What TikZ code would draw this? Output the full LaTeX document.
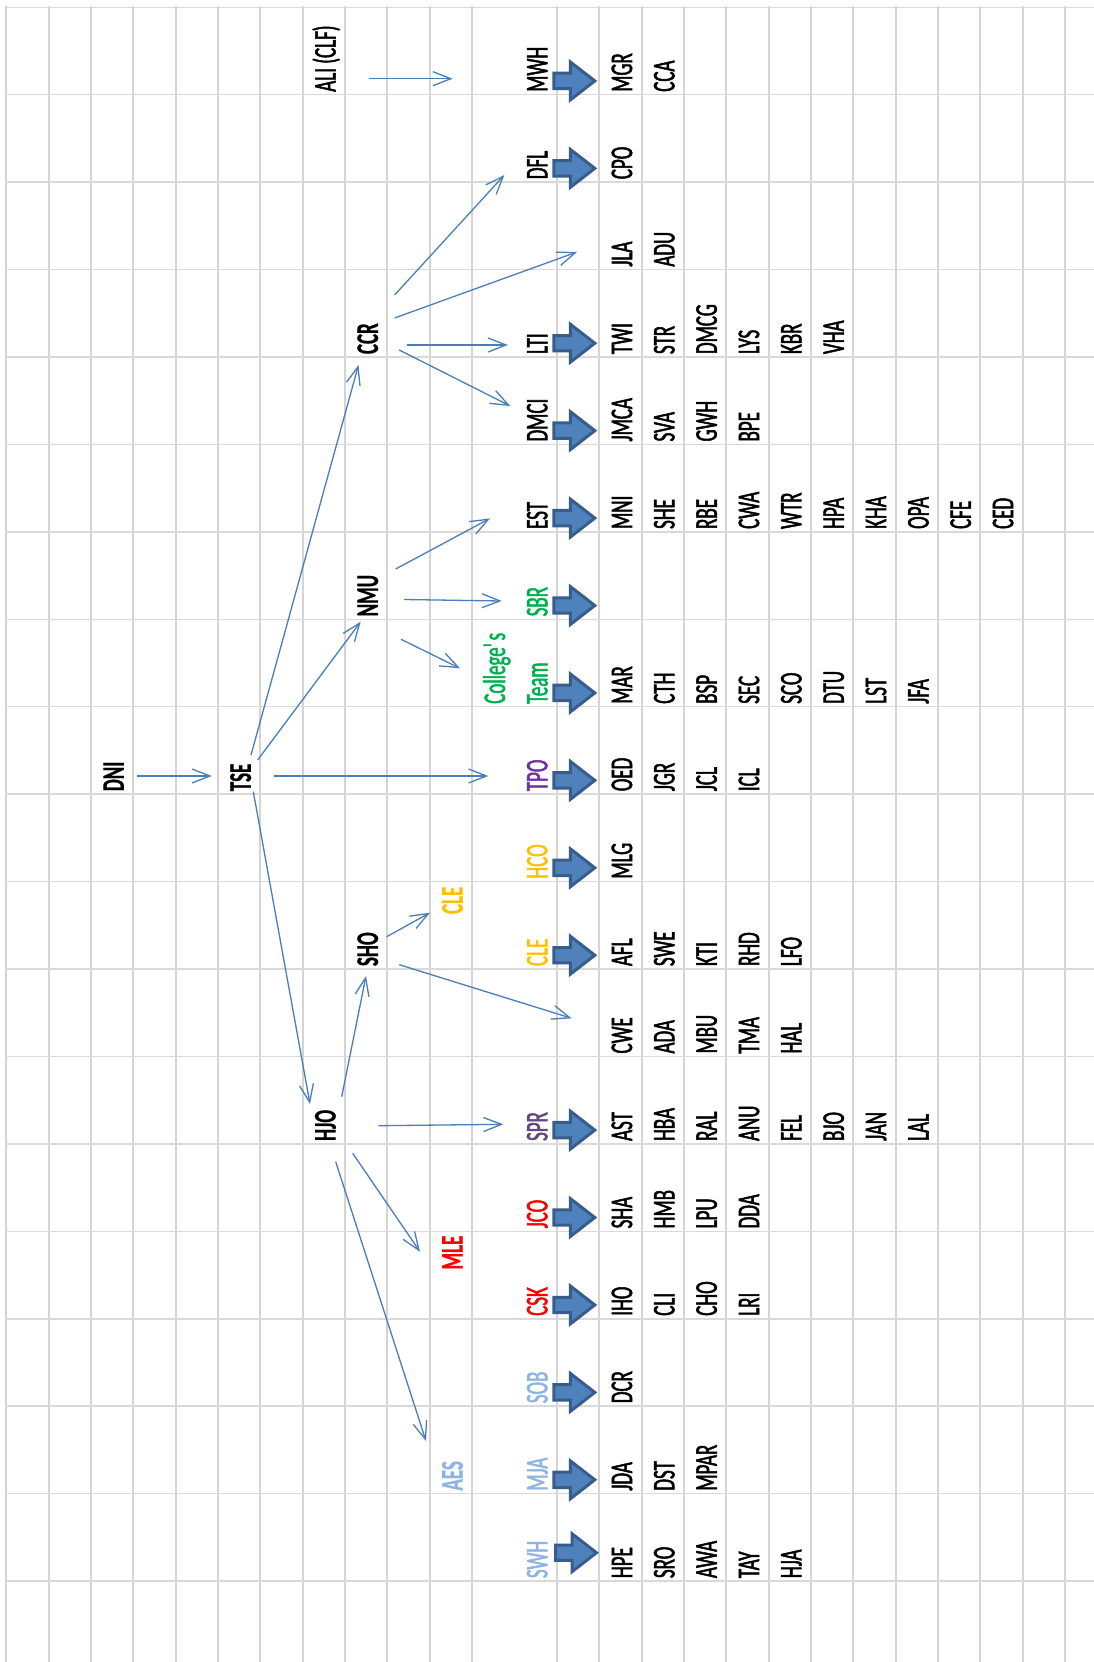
\documentclass[tikz,border=0pt]{standalone}
\usepackage{fontspec}
\setmainfont{Carlito}[FakeStretch=0.6, UprightFeatures={FakeBold=1.6}, BoldFeatures={FakeBold=0.6}]
\usetikzlibrary{arrows.meta}
\definecolor{connc}{HTML}{4A7EBB}
\definecolor{gridv}{HTML}{D4D4D4}
\definecolor{gridh}{HTML}{D9D9D9}
\definecolor{bfill}{HTML}{4F81BD}
\definecolor{bline}{HTML}{385D8A}
\definecolor{cgold}{HTML}{FFC000}
\definecolor{cred}{HTML}{FF0000}
\definecolor{cgreen}{HTML}{00B050}
\definecolor{cpurple}{HTML}{7030A0}
\definecolor{cpurpletwo}{HTML}{604A7B}
\definecolor{clblue}{HTML}{8DB4E2}
\newcommand\sq[1]{#1}
\newcommand\mylab[5]{\node[lbl,#4] (#1) at ({6.3+42.35*(#2+1)-9.5},{7.3+87.43*(#3)-3}) {\sq{#5}};}
\tikzset{
  lbl/.style={rotate=90, anchor=base west, inner sep=0pt, outer sep=0pt, font=\fontsize{31.6}{32}\selectfont},
  bld/.style={font=\fontsize{31.6}{32}\selectfont\bfseries},
  vline/.style={draw=gridv, line width=2pt},
  hline/.style={draw=gridh, line width=1.5pt},
  conn/.style={draw=connc, line width=1.3pt, -{Straight Barb[length=18pt,width=14pt,line width=1.3pt]}},
  bastyle/.style={fill=bfill, draw=bline, line width=3pt, line join=miter},
  barrow/.pic={\path[bastyle] (0,-7.7) -- (16.5,-7.7) -- (16.5,-19) -- (41,0) -- (16.5,19) -- (16.5,7.7) -- (0,7.7) -- cycle;}
}
\begin{document}
\begin{tikzpicture}[x=1pt,y=-1pt]
\fill[white] (0,0) rectangle (1094,1662);
\useasboundingbox (0,0) rectangle (1094,1662);
% grid
\foreach \k in {0,1,2,3,4,5,6,7,8,9,10,11,13,14,15,16,17,18,19,20,21,22,23,24,25}
  \draw[vline] ({6.3+42.35*\k},6.3) -- ({6.3+42.35*\k},1662);
\foreach \j in {0,...,18}
  \draw[hline] (5.3,{7.3+87.43*\j}) -- (1094,{7.3+87.43*\j});
% block arrows
\foreach \j in {1,2,4,5,6,7,8,9,10,11,13,14,15,16,17}
  \pic at (553.8,{7.3+87.43*\j-13.8}) {barrow};
\pic at (555.5,1552.7) {barrow};
% labels
\mylab{DNI}{2}{9}{bld}{DNI}
\mylab{TSE}{5}{9}{bld}{TSE}
\mylab{ALI}{7}{1}{}{ALI (CLF)}
\mylab{HJO}{7}{13}{bld}{HJO}
\mylab{CCR}{8}{4}{bld}{CCR}
\mylab{NMU}{8}{7}{bld}{NMU}
\mylab{SHO}{8}{11}{bld}{SHO}
\node[lbl,bld,text=cgold] (CLEb) at (462.7,914) {\sq{CLE}};
\node[lbl,bld,text=cred] (MLE) at (462.7,1269.5) {\sq{MLE}};
\mylab{AES}{10}{17}{bld,text=clblue}{AES}
\mylab{Colleges}{11}{8}{text=cgreen}{College\textquotesingle s}
% main column
\mylab{MWH}{12}{1}{}{MWH}
\mylab{DFL}{12}{2}{}{DFL}
\mylab{LTI}{12}{4}{}{LTI}
\mylab{DMCI}{12}{5}{}{DMCI}
\mylab{EST}{12}{6}{}{EST}
\mylab{SBR}{12}{7}{text=cgreen}{SBR}
\mylab{Team}{12}{8}{text=cgreen}{Team}
\mylab{TPO}{12}{9}{text=cpurple}{TPO}
\mylab{HCO}{12}{10}{text=cgold}{HCO}
\mylab{CLEa}{12}{11}{text=cgold}{CLE}
\mylab{SPR}{12}{13}{text=cpurpletwo}{SPR}
\mylab{JCO}{12}{14}{text=cred}{JCO}
\mylab{CSK}{12}{15}{text=cred}{CSK}
\mylab{SOB}{12}{16}{text=clblue}{SOB}
\mylab{MJA}{12}{17}{text=clblue}{MJA}
\mylab{SWH}{12}{18}{text=clblue}{SWH}
% column 14
\mylab{MGR}{14}{1}{}{MGR}
\mylab{CPO}{14}{2}{}{CPO}
\mylab{JLA}{14}{3}{}{JLA}
\mylab{TWI}{14}{4}{}{TWI}
\mylab{JMCA}{14}{5}{}{JMCA}
\mylab{MNI}{14}{6}{}{MNI}
\mylab{MAR}{14}{8}{}{MAR}
\mylab{OED}{14}{9}{}{OED}
\mylab{MLG}{14}{10}{}{MLG}
\mylab{AFL}{14}{11}{}{AFL}
\mylab{CWE}{14}{12}{}{CWE}
\mylab{AST}{14}{13}{}{AST}
\mylab{SHA}{14}{14}{}{SHA}
\mylab{IHO}{14}{15}{}{IHO}
\mylab{DCR}{14}{16}{}{DCR}
\mylab{JDA}{14}{17}{}{JDA}
\mylab{HPE}{14}{18}{}{HPE}
% column 15
\mylab{CCA}{15}{1}{}{CCA}
\mylab{ADU}{15}{3}{}{ADU}
\mylab{STR}{15}{4}{}{STR}
\mylab{SVA}{15}{5}{}{SVA}
\mylab{SHE}{15}{6}{}{SHE}
\mylab{CTH}{15}{8}{}{CTH}
\mylab{JGR}{15}{9}{}{JGR}
\mylab{SWE}{15}{11}{}{SWE}
\mylab{ADA}{15}{12}{}{ADA}
\mylab{HBA}{15}{13}{}{HBA}
\mylab{HMB}{15}{14}{}{HMB}
\mylab{CLI}{15}{15}{}{CLI}
\mylab{DST}{15}{17}{}{DST}
\mylab{SRO}{15}{18}{}{SRO}
% column 16
\mylab{DMCG}{16}{4}{}{DMCG}
\mylab{GWH}{16}{5}{}{GWH}
\mylab{RBE}{16}{6}{}{RBE}
\mylab{BSP}{16}{8}{}{BSP}
\mylab{JCL}{16}{9}{}{JCL}
\mylab{KTI}{16}{11}{}{KTI}
\mylab{MBU}{16}{12}{}{MBU}
\mylab{RAL}{16}{13}{}{RAL}
\mylab{LPU}{16}{14}{}{LPU}
\mylab{CHO}{16}{15}{}{CHO}
\mylab{MPAR}{16}{17}{}{MPAR}
\mylab{AWA}{16}{18}{}{AWA}
% column 17
\mylab{LYS}{17}{4}{}{LYS}
\mylab{BPE}{17}{5}{}{BPE}
\mylab{CWA}{17}{6}{}{CWA}
\mylab{SEC}{17}{8}{}{SEC}
\mylab{ICL}{17}{9}{}{ICL}
\mylab{RHD}{17}{11}{}{RHD}
\mylab{TMA}{17}{12}{}{TMA}
\mylab{ANU}{17}{13}{}{ANU}
\mylab{DDA}{17}{14}{}{DDA}
\mylab{LRI}{17}{15}{}{LRI}
\mylab{TAY}{17}{18}{}{TAY}
% column 18
\mylab{KBR}{18}{4}{}{KBR}
\mylab{WTR}{18}{6}{}{WTR}
\mylab{SCO}{18}{8}{}{SCO}
\mylab{LFO}{18}{11}{}{LFO}
\mylab{HAL}{18}{12}{}{HAL}
\mylab{FEL}{18}{13}{}{FEL}
\mylab{HJA}{18}{18}{}{HJA}
% column 19
\mylab{VHA}{19}{4}{}{VHA}
\mylab{HPA}{19}{6}{}{HPA}
\mylab{DTU}{19}{8}{}{DTU}
\mylab{BJO}{19}{13}{}{BJO}
% column 20
\mylab{KHA}{20}{6}{}{KHA}
\mylab{LST}{20}{8}{}{LST}
\mylab{JAN}{20}{13}{}{JAN}
% column 21
\mylab{OPA}{21}{6}{}{OPA}
\mylab{JFA}{21}{8}{}{JFA}
\mylab{LAL}{21}{13}{}{LAL}
% columns 22, 23
\mylab{CFE}{22}{6}{}{CFE}
\mylab{CED}{23}{6}{}{CED}
% connector end points
\coordinate (aliS) at (369,78.7);     \coordinate (aliE) at (452.7,78.7);
\coordinate (ccrA) at (394.6,295);    \coordinate (dflE) at (504.4,175);
\coordinate (ccrB) at (394.6,318);    \coordinate (jlaE) at (577,252);
\coordinate (ccrC) at (406.9,345);    \coordinate (ltiE) at (507.9,345);
\coordinate (ccrD) at (399.2,350);    \coordinate (dmciE) at (510.3,406);
\coordinate (tseA) at (251,755);      \coordinate (ccrE) at (358.5,365);
\coordinate (tseB) at (257.7,760);    \coordinate (nmuE) at (360.7,621.7);
\coordinate (tseC) at (274.3,776);    \coordinate (tpoE) at (488.3,776);
\coordinate (tseD) at (253.3,791.7);  \coordinate (hjoE) at (310,1104);
\coordinate (dniS) at (137.3,776);    \coordinate (tseE) at (211.7,776);
\coordinate (nmuA) at (395.7,569);    \coordinate (estE) at (490,518.4);
\coordinate (nmuB) at (404,599.5);    \coordinate (sbrE) at (501.7,601);
\coordinate (nmuC) at (401,639.3);    \coordinate (colE) at (460,668.3);
\coordinate (shoA) at (386.7,936.7);  \coordinate (clebE) at (430,912.7);
\coordinate (shoB) at (399.3,964.7);  \coordinate (cweE) at (571.7,1018.3);
\coordinate (hjoA) at (341.7,1096.7); \coordinate (shoE) at (366,976);
\coordinate (hjoB) at (378.3,1125.7); \coordinate (sprE) at (503.3,1124.3);
\coordinate (hjoC) at (352.7,1153.3); \coordinate (mleE) at (420,1251.7);
\coordinate (hjoD) at (335.7,1161.7); \coordinate (aesE) at (426,1441);
% connectors
\draw[conn] (aliS) -- (aliE);
\draw[conn] (ccrA) -- (dflE);
\draw[conn] (ccrB) -- (jlaE);
\draw[conn] (ccrC) -- (ltiE);
\draw[conn] (ccrD) -- (dmciE);
\draw[conn] (tseA) -- (ccrE);
\draw[conn] (tseB) -- (nmuE);
\draw[conn] (tseC) -- (tpoE);
\draw[conn] (tseD) -- (hjoE);
\draw[conn] (dniS) -- (tseE);
\draw[conn] (nmuA) -- (estE);
\draw[conn] (nmuB) -- (sbrE);
\draw[conn] (nmuC) -- (colE);
\draw[conn] (shoA) -- (clebE);
\draw[conn] (shoB) -- (cweE);
\draw[conn] (hjoA) -- (shoE);
\draw[conn] (hjoB) -- (sprE);
\draw[conn] (hjoC) -- (mleE);
\draw[conn] (hjoD) -- (aesE);
\end{tikzpicture}
\end{document}
